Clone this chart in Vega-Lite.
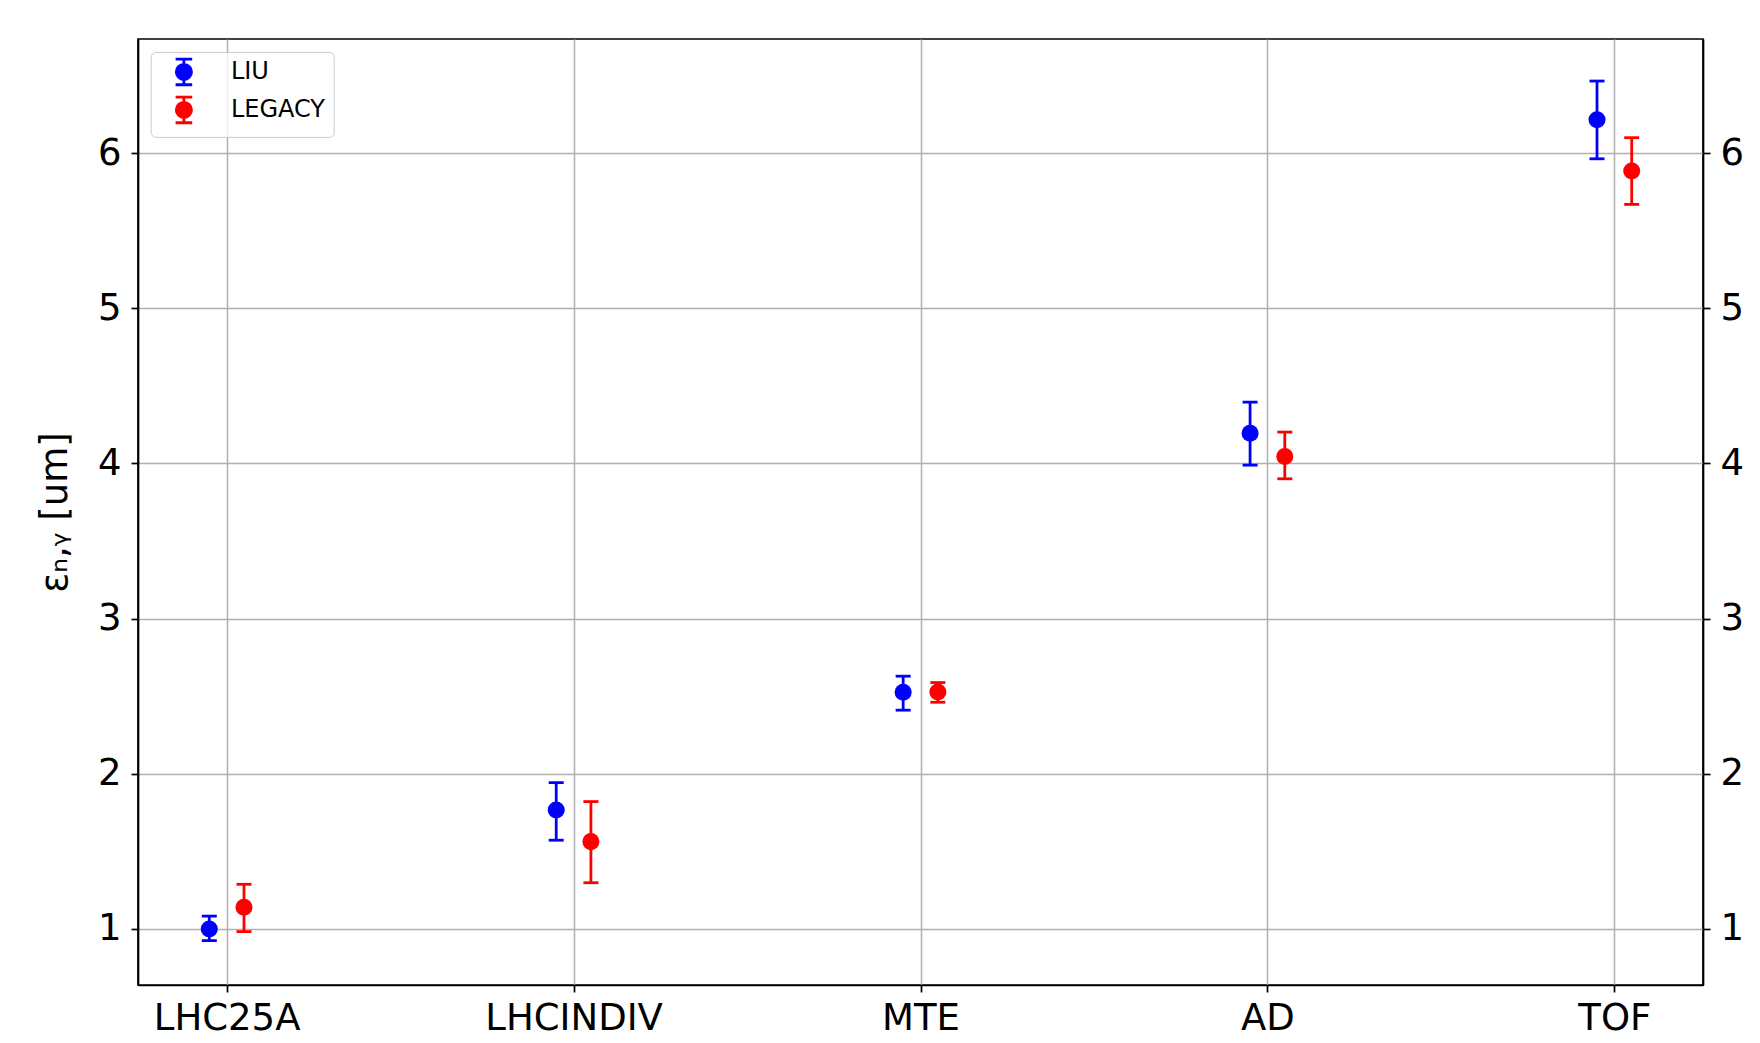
{
  "$schema": "https://vega.github.io/schema/vega-lite/v6.json",
  "autosize": "none",
  "width": 1565,
  "height": 946,
  "padding": {"left": 138, "top": 39, "right": 57, "bottom": 58},
  "background": "white",
  "config": {
    "view": {"stroke": "#000", "strokeWidth": 1.7},
    "font": "DejaVu Sans",
    "axis": {
      "labelFont": "DejaVu Sans", "labelFontSize": 37, "labelColor": "#000",
      "tickColor": "#000", "tickSize": 7, "tickWidth": 1.7,
      "domainColor": "#000", "domainWidth": 1.7,
      "gridColor": "#b0b0b0", "gridWidth": 1.5,
      "titleFont": "DejaVu Sans", "titleFontSize": 37, "titleFontWeight": "normal", "titleColor": "#000"
    }
  },
  "data": {"values": [
    {"cat": "LHC25A", "series": "LIU", "val": 1.00, "lo": 0.925, "hi": 1.083},
    {"cat": "LHC25A", "series": "LEGACY", "val": 1.14, "lo": 0.983, "hi": 1.288},
    {"cat": "LHCINDIV", "series": "LIU", "val": 1.767, "lo": 1.572, "hi": 1.943},
    {"cat": "LHCINDIV", "series": "LEGACY", "val": 1.563, "lo": 1.298, "hi": 1.821},
    {"cat": "MTE", "series": "LIU", "val": 2.525, "lo": 2.41, "hi": 2.629},
    {"cat": "MTE", "series": "LEGACY", "val": 2.527, "lo": 2.461, "hi": 2.588},
    {"cat": "AD", "series": "LIU", "val": 4.195, "lo": 3.989, "hi": 4.395},
    {"cat": "AD", "series": "LEGACY", "val": 4.044, "lo": 3.901, "hi": 4.202},
    {"cat": "TOF", "series": "LIU", "val": 6.215, "lo": 5.963, "hi": 6.464},
    {"cat": "TOF", "series": "LEGACY", "val": 5.885, "lo": 5.669, "hi": 6.099}
  ]},
  "encoding": {
    "x": {
      "field": "cat", "type": "nominal", "sort": ["LHC25A", "LHCINDIV", "MTE", "AD", "TOF"],
      "scale": {"type": "point", "padding": 0.2555},
      "axis": {"title": null, "labelAngle": 0, "grid": true, "labelPadding": 8}
    },
    "xOffset": {
      "field": "series", "type": "nominal",
      "scale": {"type": "point", "domain": ["LIU", "LEGACY"], "range": [-17.35, 17.35], "padding": 0}
    },
    "color": {
      "field": "series", "type": "nominal",
      "scale": {"domain": ["LIU", "LEGACY"], "range": ["#0000ff", "#ff0000"]},
      "legend": {
        "title": null, "orient": "none", "legendX": 12.7, "legendY": 12.9,
        "padding": 8, "symbolOffset": 13.2,
        "fillColor": "rgba(255,255,255,0.8)", "strokeColor": "#cccccc", "cornerRadius": 5,
        "labelFont": "DejaVu Sans", "labelFontSize": 24, "labelColor": "#000", "labelOffset": 35,
        "rowPadding": 0,
        "symbolType": "M-0.83,-1.285H0.83M0,-1.285V1.285M-0.83,1.285H0.83M-0.76,0A0.76,0.76,0,1,0,0.76,0A0.76,0.76,0,1,0,-0.76,0Z",
        "symbolSize": 400, "symbolStrokeWidth": 2.8, "symbolOpacity": 1,
        "encode": {"symbols": {"update": {
          "stroke": {"scale": "color", "field": "value"},
          "fill": {"scale": "color", "field": "value"},
          "strokeWidth": {"value": 2.8}, "opacity": {"value": 1}}}}
      }
    }
  },
  "layer": [
    {
      "mark": {"type": "rule", "strokeWidth": 2.8},
      "encoding": {
        "y": {"field": "lo", "type": "quantitative",
          "scale": {"domain": [0.639, 6.735], "nice": false, "zero": false},
          "axis": {"orient": "left", "values": [1, 2, 3, 4, 5, 6], "grid": true, "title": "εₙ,ᵧ [um]", "labelPadding": 10, "titlePadding": 23}},
        "y2": {"field": "hi"}
      }
    },
    {
      "mark": {"type": "tick", "thickness": 2.8, "size": 15, "opacity": 1},
      "encoding": {
        "y": {"field": "lo", "type": "quantitative", "scale": {"domain": [0.639, 6.735], "nice": false, "zero": false}, "axis": null}
      }
    },
    {
      "mark": {"type": "tick", "thickness": 2.8, "size": 15, "opacity": 1},
      "encoding": {
        "y": {"field": "hi", "type": "quantitative", "scale": {"domain": [0.639, 6.735], "nice": false, "zero": false}, "axis": null}
      }
    },
    {
      "mark": {"type": "point", "filled": true, "opacity": 1, "size": 290, "shape": "circle"},
      "encoding": {
        "y": {"field": "val", "type": "quantitative",
          "scale": {"domain": [0.639, 6.735], "nice": false, "zero": false},
          "axis": {"orient": "right", "values": [1, 2, 3, 4, 5, 6], "grid": false, "title": null, "labelPadding": 10}}
      }
    }
  ],
  "resolve": {"axis": {"y": "independent"}}
}
